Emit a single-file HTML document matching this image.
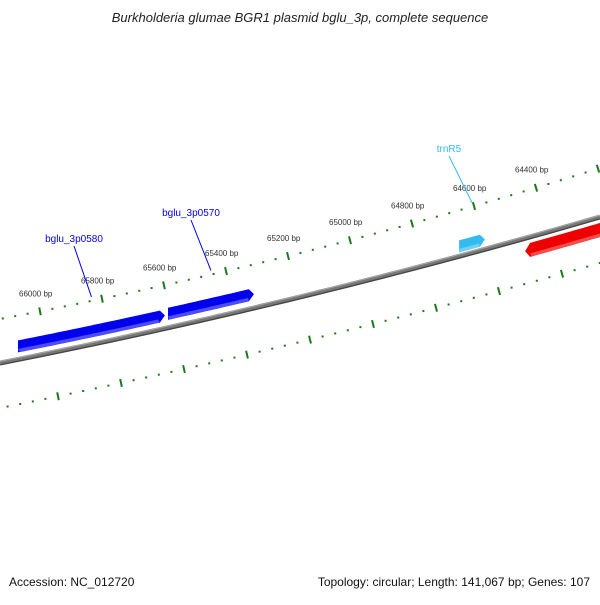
<!DOCTYPE html>
<html><head><meta charset="utf-8"><style>
body{margin:0;background:#fff}
svg text{font-family:"Liberation Sans","DejaVu Sans",sans-serif}
</style></head><body>
<svg id="c" width="600" height="600" viewBox="0 0 600 600">
<text x="300" y="22" text-anchor="middle" font-size="13" font-style="italic" fill="#222">Burkholderia glumae BGR1 plasmid bglu_3p, complete sequence</text>
<text x="9" y="586" font-size="12" fill="#111">Accession: NC_012720</text>
<text x="590" y="586" font-size="12" fill="#111" text-anchor="end">Topology: circular; Length: 141,067 bp; Genes: 107</text>
<g id="g"></g>
</svg>
<script>
const majorTicks=[66400,66200,66000,65800,65600,65400,65200,65000,64800,64600,64400,64200,64000];
const tickLabels=["66000 bp","65800 bp","65600 bp","65400 bp","65200 bp","65000 bp","64800 bp","64600 bp","64400 bp"];
const tickLabelBp=[66000,65800,65600,65400,65200,65000,64800,64600,64400];
const geneNames=["bglu_3p0580","bglu_3p0570","trnR5","red-gene"];
const geneStart=[66071,65587,64648,64435];
const geneEnd=[65597,65310,64565,63900];
const geneColors=["#0000ee","#0000ee","#33bbee","#ee0000"];
const geneStrand=[1,1,1,-1];
const geneOffIn=[7,8,4,6];
const geneOffOut=[19,20,16,20];
const labelGenes=[0,1,2];
const labelPos=[[74,242],[191,216],[449,152]];

const NS="http://www.w3.org/2000/svg",G=document.getElementById('g');
function xOuter(bp){return 40+(66000-bp)*0.31;}
function xInner(bp){return 58+(66000-bp)*0.315;}
function quad(y0,yc,y2){return x=>{const t=x/600;return (1-t)*(1-t)*y0+2*t*(1-t)*yc+t*t*y2;};}
const yOut=quad(319,262.6,168),yIn=quad(408,348.5,263),yBb=quad(363,304,217);
function slope(f,x){return (f(x+1)-f(x-1))/2;}
function mk(tag,attrs,name){const e=document.createElementNS(NS,tag);for(const k in attrs)e.setAttribute(k,attrs[k]);


G.appendChild(e);return e;}
// backbone
let d="";for(let x=0;x<=600;x+=10)d+=(x?"L":"M")+x+","+yBb(x).toFixed(2);
mk('path',{d:d,stroke:'#777',"stroke-width":5,fill:'none'},'backbone');
let d2="";for(let x=0;x<=600;x+=10)d2+=(x?"L":"M")+x+","+(yBb(x)+1.8).toFixed(2);
mk('path',{d:d2,stroke:'#444',"stroke-width":1.2,fill:'none'},'backbone-shadow');
let d3="";for(let x=0;x<=600;x+=10)d3+=(x?"L":"M")+x+","+(yBb(x)-1.8).toFixed(2);
mk('path',{d:d3,stroke:'#aaa',"stroke-width":1,fill:'none'},'backbone-highlight');
// ticks
function drawRing(xf,yf,name){
 for(let i=0;i<majorTicks.length-1;i++){
  for(let j=0;j<5;j++){
   const bp=majorTicks[i]-j*40,x=xf(bp);if(x<-5||x>605)continue;const y=yf(x);
   if(j==0){const s=slope(yf,x),n=Math.hypot(1,s),nx=-s/n,ny=1/n;
    mk('line',{x1:x-nx*4,y1:y-ny*4,x2:x+nx*4,y2:y+ny*4,stroke:'#1a7a1a',"stroke-width":2},name+'-major-tick');}
   else mk('rect',{x:x-1,y:y-1,width:2,height:2,fill:'#1a7a1a'},name+'-minor-tick');
  }}
}
drawRing(xOuter,yOut,'outer-ring');drawRing(xInner,yIn,'inner-ring');
tickLabels.forEach((t,i)=>{const x=xOuter(tickLabelBp[i]);const e=mk('text',{x:x-21,y:yOut(x)-15,"font-size":8,fill:'#333'},'tick-label');e.textContent=t;});
// genes
function shade(c,f){const n=parseInt(c.slice(1),16);let r=n>>16,g=(n>>8)&255,b=n&255;
 r=Math.min(255,Math.round(r+(255-r)*f));g=Math.min(255,Math.round(g+(255-g)*f));b=Math.min(255,Math.round(b+(255-b)*f));return `rgb(${r},${g},${b})`;}
geneNames.forEach((nm,i)=>{
 const xa=xOuter(geneStart[i]),xb=Math.min(xOuter(geneEnd[i]),640);
 const sgn=geneStrand[i]; // 1 above, -1 below
 const off=(x,o)=>yBb(x)-sgn*o;
 const o1=geneOffIn[i],o2=geneOffOut[i],om=(o1+o2)/2;
 const pts=[];const tip=5;
 if(sgn==1){ // arrow points right
  for(let x=xa;x<=xb-tip;x+=4)pts.push([x,off(x,o2)]);
  pts.push([xb-tip,off(xb-tip,o2)]);pts.push([xb,off(xb,om)]);pts.push([xb-tip,off(xb-tip,o1)]);
  for(let x=xb-tip;x>=xa;x-=4)pts.push([x,off(x,o1)]);pts.push([xa,off(xa,o1)]);
 }else{ // arrow points left
  pts.push([xa,off(xa,om)]);
  for(let x=xa+tip;x<=xb;x+=4)pts.push([x,off(x,o1)]);
  pts.push([xb,off(xb,o1)]);pts.push([xb,off(xb,o2)]);
  for(let x=xb;x>=xa+tip;x-=4)pts.push([x,off(x,o2)]);pts.push([xa+tip,off(xa+tip,o2)]);
 }
 mk('polygon',{points:pts.map(p=>p[0].toFixed(1)+","+p[1].toFixed(1)).join(" "),fill:geneColors[i]},'gene-'+nm);
 // lighter lower stripe
 const lo=sgn==1?o1:o2, hi=sgn==1?o1+3.5:o2-3.5;
 const s=[];const xe=sgn==1?xb-tip:xb,xs=sgn==1?xa:xa+tip;
 for(let x=xs;x<=xe;x+=4)s.push([x,yBb(x)-(sgn==1?hi:-o1-(o2-o1)+3.5)]);
 const band=[];for(let x=xs;x<=xe;x+=4)band.push([x,yBb(x)+(sgn==1?-o1-3.5:o2-3.5)]);
 for(let x=xe;x>=xs;x-=4)band.push([x,yBb(x)+(sgn==1?-o1:o2)]);
 mk('polygon',{points:band.map(p=>p[0].toFixed(1)+","+p[1].toFixed(1)).join(" "),fill:shade(geneColors[i],0.3)},'gene-shade-'+nm);
});
// labels
labelGenes.forEach((gi,k)=>{const [lx,ly]=labelPos[k];const c=geneColors[gi];
 const xm=(xOuter(geneStart[gi])+xOuter(geneEnd[gi]))/2;const ye=yOut(xm)-4;
 mk('line',{x1:lx,y1:ly+4,x2:xm,y2:ye,stroke:c,"stroke-width":1},'leader-'+geneNames[gi]);
 const e=mk('text',{x:lx,y:ly,"font-size":10,fill:c,"text-anchor":"middle"},'gene-label-'+geneNames[gi]);e.textContent=geneNames[gi];});
</script>
</body></html>
